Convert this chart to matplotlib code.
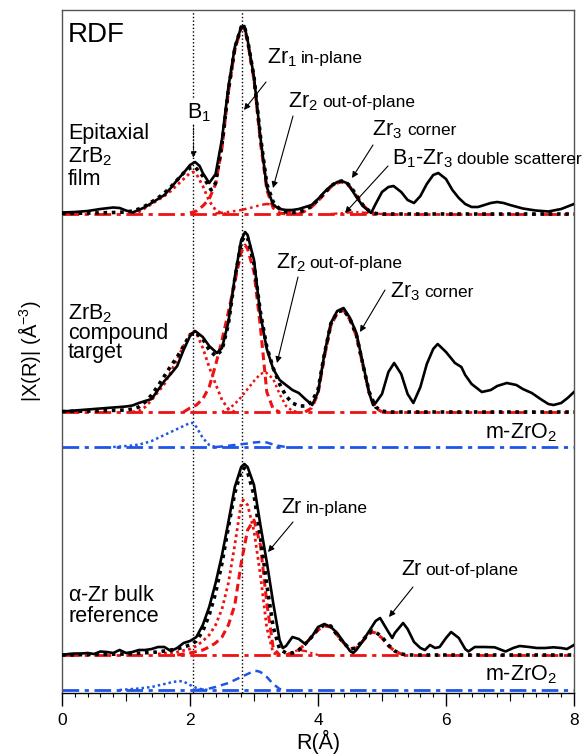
import numpy as np
import matplotlib
matplotlib.use("Agg")
import matplotlib.pyplot as plt
from matplotlib.ticker import MultipleLocator, FixedLocator, NullFormatter

plt.rcParams['font.family'] = ['Liberation Sans', 'DejaVu Sans']
plt.rcParams['mathtext.fontset'] = 'custom'
plt.rcParams['mathtext.rm'] = 'Liberation Sans'
plt.rcParams['mathtext.it'] = 'Liberation Sans:italic'
plt.rcParams['mathtext.default'] = 'regular'

# ---------------- data (R in Angstrom, |X(R)| in arbitrary units) ----------------
# Epitaxial ZrB2 film
film_data = [(0.0,1.5),(0.2,2),(0.4,3),(0.6,5),(0.8,6.5),(0.9,6),(1.0,3.5),(1.1,1.5),(1.2,4),(1.3,7),
             (1.4,11),(1.5,15),(1.6,19),(1.7,26),(1.8,34),(1.9,41),(2.0,49),(2.08,52),(2.15,48),(2.2,41),
             (2.3,31),(2.4,40),(2.5,75),(2.6,127),(2.7,167),(2.8,187),(2.85,188),(2.9,174),(3.0,137),
             (3.1,77),(3.2,27),(3.3,9),(3.4,5),(3.5,4),(3.6,4),(3.7,5),(3.8,7),(3.9,9),(4.0,15),(4.1,22),
             (4.2,28),(4.3,32),(4.37,33),(4.45,31),(4.5,27),(4.6,17),(4.7,8),(4.83,1),(4.9,10),(5.0,22),
             (5.1,27),(5.18,28),(5.3,22),(5.4,14),(5.5,11),(5.6,18),(5.7,30),(5.8,39),(5.88,41),(6.0,35),
             (6.1,24),(6.2,16),(6.3,10),(6.4,7),(6.5,7),(6.6,9),(6.7,11),(6.8,12),(6.9,11),(7.0,9),
             (7.2,5.5),(7.4,3.5),(7.6,2.5),(7.8,5),(8.0,10)]
film_fit = [(0.0,0.5),(0.5,1),(0.8,1.5),(1.0,2),(1.1,3),(1.2,5),(1.3,8),(1.4,12),(1.5,16),(1.6,21),
            (1.7,27),(1.8,34),(1.9,41),(2.0,46),(2.08,47),(2.2,38),(2.33,24),(2.4,31),(2.5,70),(2.6,124),
            (2.7,166),(2.8,187),(2.85,188),(2.9,174),(3.0,137),(3.1,78),(3.2,30),(3.3,12),(3.4,5),(3.5,2),
            (3.6,1.5),(3.7,2),(3.8,4),(3.9,8),(4.0,14),(4.1,21),(4.2,28),(4.3,32),(4.37,33),(4.45,31),
            (4.5,28),(4.6,19),(4.7,9),(4.8,3),(4.9,0.5),(5.0,0),(8.0,0)]
film_b1 = [(1.1,0),(1.2,2),(1.3,6),(1.4,10),(1.5,14),(1.6,18),(1.7,23),(1.8,29),(1.9,35),(2.0,41),
           (2.05,42),(2.1,40),(2.2,28),(2.3,13),(2.4,4),(2.5,0.5),(2.6,0)]
film_zr1 = [(2.0,1),(2.1,3),(2.2,8),(2.3,15),(2.4,30),(2.5,66),(2.6,122),(2.7,164),(2.8,186),(2.85,186),
            (2.9,172),(3.0,134),(3.1,72),(3.2,24),(3.3,6),(3.4,1),(3.5,0)]
film_zr2 = [(2.4,0.5),(2.6,2),(2.8,4),(3.0,7),(3.1,9),(3.2,10),(3.3,9.5),(3.4,6),(3.5,3),(3.6,1),(3.7,0)]
film_zr3 = [(3.7,0),(3.8,3),(3.9,7),(4.0,13),(4.1,20),(4.2,27),(4.3,31),(4.37,32),(4.45,30),(4.5,27),
            (4.6,18),(4.7,9),(4.8,3),(4.9,0)]
film_ds = [(4.2,0),(4.4,1),(4.6,2),(4.8,1),(5.0,0)]

# ZrB2 compound target
target_data = [(0.0,0.5),(0.2,1.5),(0.4,2.5),(0.6,3.5),(0.8,4.5),(1.0,5.5),(1.1,6.5),(1.2,9),(1.3,11),
               (1.4,13),(1.5,22),(1.6,31),(1.7,38),(1.8,46),(1.9,62),(2.0,76),(2.08,81),(2.2,75),
               (2.3,66),(2.42,59),(2.5,64),(2.6,90),(2.7,135),(2.8,172),(2.86,180),(2.9,177),(3.0,152),
               (3.1,97),(3.2,63),(3.3,43),(3.4,32),(3.5,27),(3.6,22),(3.7,19),(3.8,13),(3.91,7),(4.0,20),
               (4.1,58),(4.2,89),(4.3,101),(4.4,104),(4.5,94),(4.6,79),(4.7,49),(4.8,19),(4.86,7),
               (4.9,9),(5.0,18),(5.1,40),(5.19,49),(5.3,38),(5.4,18),(5.49,9),(5.6,25),(5.7,48),(5.8,63),
               (5.87,68),(6.0,60),(6.14,49),(6.24,45),(6.3,37),(6.4,28),(6.56,20),(6.7,22),(6.8,26),
               (6.95,29),(7.1,27),(7.2,23),(7.34,19),(7.5,12),(7.6,8),(7.68,7),(7.8,9),(7.9,14),(8.0,20)]
target_fit = [(0.0,0.5),(0.5,1),(1.0,2),(1.1,3),(1.2,5),(1.3,10),(1.4,17),(1.5,26),(1.6,36),(1.7,46),
              (1.8,55),(1.9,66),(2.0,77),(2.08,80),(2.2,73),(2.3,62),(2.4,56),(2.5,62),(2.6,88),
              (2.7,133),(2.8,170),(2.86,176),(2.9,174),(3.0,148),(3.1,100),(3.2,65),(3.3,44),(3.4,28),
              (3.5,16),(3.6,9),(3.7,6),(3.8,6),(3.9,10),(4.0,22),(4.1,58),(4.2,88),(4.3,100),(4.4,102),
              (4.5,93),(4.6,77),(4.7,48),(4.8,20),(4.9,5),(5.0,1),(5.1,0),(8.0,0)]
target_b1 = [(1.1,0),(1.2,1),(1.3,5),(1.4,12),(1.5,20),(1.6,28),(1.7,40),(1.8,53),(1.9,66),(2.0,78),
             (2.07,81),(2.1,79),(2.2,64),(2.3,45),(2.4,28),(2.5,12),(2.6,3),(2.7,0)]
target_zr1 = [(1.9,0),(2.0,4),(2.1,7),(2.2,13),(2.3,25),(2.4,47),(2.5,72),(2.6,100),(2.7,130),(2.8,160),
              (2.86,167),(2.9,163),(3.0,140),(3.1,85),(3.2,20),(3.3,3),(3.4,0)]
target_zr2 = [(2.5,0),(2.6,3),(2.7,8),(2.8,15),(2.9,23),(3.0,31),(3.1,38),(3.18,40),(3.3,33),(3.4,18),
              (3.5,6),(3.6,1),(3.7,0)]
target_zr3 = [(3.8,0),(3.9,4),(4.0,18),(4.1,55),(4.2,86),(4.3,99),(4.4,102),(4.5,92),(4.6,76),(4.7,47),
              (4.8,19),(4.9,4),(5.0,0)]
target_zro2_b = [(0.8,0),(1.0,1),(1.1,1.5),(1.2,2.5),(1.3,4),(1.4,6),(1.5,9),(1.6,12),(1.7,15),(1.8,18),
                 (1.9,21),(2.0,24),(2.05,24),(2.1,20),(2.2,9),(2.3,2),(2.4,0)]
target_zro2_zr = [(2.4,0),(2.5,0.5),(2.7,2),(2.9,3.5),(3.0,4.5),(3.1,5),(3.2,4.5),(3.3,2.5),(3.4,1),(3.5,0)]

# alpha-Zr bulk reference
zr_data = [(0.0,0),(0.1,1),(0.2,1.5),(0.3,1.5),(0.4,2),(0.5,1),(0.6,3.5),(0.7,3),(0.8,2),(0.9,5),
           (1.0,2),(1.1,3),(1.2,5),(1.3,5),(1.4,6),(1.5,8),(1.6,8),(1.7,4),(1.8,7),(1.9,12),(2.0,14),
           (2.1,18),(2.2,30),(2.3,48),(2.4,72),(2.5,100),(2.6,133),(2.7,168),(2.8,188),(2.85,191),
           (2.9,188),(3.0,170),(3.1,130),(3.2,93),(3.3,52),(3.4,15),(3.45,7),(3.5,9),(3.6,18),(3.7,16),
           (3.8,11),(3.9,18),(4.0,28),(4.1,31),(4.2,28),(4.3,22),(4.4,13),(4.5,4),(4.55,2),(4.6,5),
           (4.7,14),(4.8,24),(4.9,34),(4.97,37),(5.1,23),(5.16,17),(5.2,22),(5.33,32),(5.4,26),(5.5,13),
           (5.6,7),(5.67,5),(5.75,10),(5.83,7),(5.9,8),(6.0,17),(6.08,23),(6.2,17),(6.3,6),(6.35,3.5),
           (6.45,8),(6.6,8),(6.76,7.7),(6.93,3.5),(7.05,7),(7.15,9),(7.3,8),(7.42,7),(7.55,7),
           (7.68,7.7),(7.8,7),(7.89,6),(8.0,10)]
zr_fit = [(0.0,0),(0.5,0.5),(1.0,1),(1.5,3),(1.8,6),(2.0,10),(2.1,14),(2.2,24),(2.3,40),(2.4,62),
          (2.5,92),(2.6,128),(2.7,162),(2.8,184),(2.85,187),(2.9,183),(3.0,160),(3.1,118),(3.2,70),
          (3.3,28),(3.4,6),(3.5,2),(3.6,2),(3.7,5),(3.8,11),(3.9,18),(4.0,26),(4.1,30),(4.2,29),
          (4.3,20),(4.4,12),(4.5,6),(4.6,7),(4.7,15),(4.8,22),(4.85,24),(4.9,23),(5.0,18),(5.1,10),
          (5.2,4),(5.3,1),(5.4,0),(8.0,0)]
zr_inplane_a = [(1.5,1),(1.8,3),(2.0,6),(2.1,9),(2.2,14),(2.3,20),(2.4,30),(2.5,46),(2.6,72),(2.7,110),
                (2.8,152),(2.83,155),(2.9,150),(3.0,124),(3.1,80),(3.2,27),(3.3,2),(3.4,0)]
zr_inplane_b = [(1.8,0),(2.0,2),(2.2,5),(2.3,8),(2.4,12),(2.5,18),(2.6,30),(2.7,50),(2.8,92),(2.9,125),
                (3.0,135),(3.1,110),(3.2,52),(3.3,7),(3.4,0)]
zr_outplane = [(3.5,0),(3.6,2),(3.7,5),(3.8,11),(3.9,18),(4.0,25),(4.1,29),(4.2,28),(4.3,20),(4.4,12),
               (4.5,6),(4.6,7),(4.7,14),(4.8,21),(4.85,23),(4.9,22),(5.0,17),(5.1,9),(5.2,4),(5.3,1),(5.4,0)]
zr_small = [(3.5,0),(3.6,3),(3.7,5),(3.8,4),(3.9,2),(4.0,0)]
zr_zro2_b = [(0.9,0),(1.0,0.5),(1.2,1.5),(1.4,3),(1.6,6),(1.7,7.5),(1.82,9),(1.9,8.5),(2.0,5),(2.1,2),
             (2.2,0.5),(2.3,0)]
zr_zro2_zr = [(2.1,0),(2.2,0.5),(2.3,1.5),(2.4,3),(2.5,5),(2.6,7),(2.7,10),(2.8,13),(2.9,16),(3.0,19),
              (3.05,19),(3.1,18),(3.2,13),(3.3,6),(3.4,1),(3.5,0)]

# vertical reference distances
r_b1 = 2.05
r_zr1 = 2.82

# x ticks
major_ticks = [0, 2, 4, 6, 8]
mid_ticks = [1, 3, 5, 7]

# panel offsets (vertical shifts of each stacked set of curves)
off_film, off_target, off_target_zro2, off_zr, off_zr_zro2 = 479, 281, 246, 38, 3

# ---------------- figure ----------------
fig = plt.figure(figsize=(5.85, 7.56), dpi=100)
ax = fig.add_axes([62/585, 63/756, 512/585, 683/756])
ax.set_xlim(0, 8)
ax.set_ylim(0, 683)

RED = '#ee1111'
BLUE = '#1f55e6'

def xy(pairs, off):
    a = np.array(pairs, dtype=float)
    return a[:, 0], a[:, 1] + off

def base(off, color):
    ax.plot([0, 8], [off, off], color=color, lw=2.0, ls=(0, (6, 2, 1.5, 2)), zorder=2)

# vertical dotted lines
for r in (r_b1, r_zr1):
    ax.axvline(r, color='k', ls=(0, (1, 1.6)), lw=1.0, zorder=1)

# baselines
base(off_film, RED)
base(off_target, RED)
base(off_zr, RED)
base(off_target_zro2, BLUE)
base(off_zr_zro2, BLUE)

# film
ax.plot(*xy(film_b1, off_film), color=RED, ls=(0, (1, 1.2)), lw=2.0, zorder=3)
ax.plot(*xy(film_zr1, off_film), color=RED, ls=(0, (2.5, 1.5)), lw=2.2, zorder=3)
ax.plot(*xy(film_zr2, off_film), color=RED, ls=(0, (3, 1.5, 1, 1.5, 1, 1.5)), lw=1.8, zorder=3)
ax.plot(*xy(film_zr3, off_film), color=RED, ls=(0, (2.5, 1.5)), lw=2.2, zorder=3)
ax.plot(*xy(film_ds, off_film), color=RED, ls=(0, (3, 1.5, 1, 1.5)), lw=1.6, zorder=3)
ax.plot(*xy(film_fit, off_film), color='k', ls=(0, (1, 1.3)), lw=2.6, zorder=4)
ax.plot(*xy(film_data, off_film), color='k', lw=1.9, zorder=5)

# target
ax.plot(*xy(target_b1, off_target), color=RED, ls=(0, (1, 1.2)), lw=2.0, zorder=3)
ax.plot(*xy(target_zr1, off_target), color=RED, ls=(0, (2.5, 1.5)), lw=2.2, zorder=3)
ax.plot(*xy(target_zr2, off_target), color=RED, ls=(0, (1, 1.2)), lw=1.8, zorder=3)
ax.plot(*xy(target_zr3, off_target), color=RED, ls=(0, (2.5, 1.5)), lw=2.2, zorder=3)
ax.plot(*xy(target_fit, off_target), color='k', ls=(0, (1, 1.3)), lw=2.6, zorder=4)
ax.plot(*xy(target_data, off_target), color='k', lw=1.9, zorder=5)
ax.plot(*xy(target_zro2_b, off_target_zro2), color=BLUE, ls=(0, (1, 1.2)), lw=1.8, zorder=3)
ax.plot(*xy(target_zro2_zr, off_target_zro2), color=BLUE, ls=(0, (3, 2)), lw=1.8, zorder=3)

# alpha-Zr
ax.plot(*xy(zr_inplane_a, off_zr), color=RED, ls=(0, (1, 1.2)), lw=2.0, zorder=3)
ax.plot(*xy(zr_inplane_b, off_zr), color=RED, ls=(0, (2.5, 1.5)), lw=2.2, zorder=3)
ax.plot(*xy(zr_outplane, off_zr), color=RED, ls=(0, (2.5, 1.5)), lw=2.2, zorder=3)
ax.plot(*xy(zr_small, off_zr), color=RED, ls=(0, (3, 1.5, 1, 1.5)), lw=1.6, zorder=3)
ax.plot(*xy(zr_fit, off_zr), color='k', ls=(0, (1, 1.3)), lw=2.6, zorder=4)
ax.plot(*xy(zr_data, off_zr), color='k', lw=1.9, zorder=5)
ax.plot(*xy(zr_zro2_b, off_zr_zro2), color=BLUE, ls=(0, (1, 1.2)), lw=1.8, zorder=3)
ax.plot(*xy(zr_zro2_zr, off_zr_zro2), color=BLUE, ls=(0, (3, 2)), lw=1.8, zorder=3)

# ---------------- text ----------------
def X(px):
    return (px - 62) / 64.0

def Y(py):
    return 693 - py

BIG = 15.5
SMALL = 12.5

def txt(px, py, s, size=BIG, **kw):
    ax.text(X(px), Y(py), s, fontsize=size, ha='left', va='baseline', **kw)

arrow = dict(arrowstyle='-|>', color='k', lw=0.8, mutation_scale=9, shrinkA=0, shrinkB=0)

def arr(p0, p1, **extra):
    props = dict(arrow)
    props.update(extra)
    ax.annotate('', xy=(X(p1[0]), Y(p1[1])), xytext=(X(p0[0]), Y(p0[1])), arrowprops=props, zorder=6)

txt(68, 42, 'RDF', size=20)

# film labels
txt(68, 139, 'Epitaxial')
txt(68, 162, 'ZrB$_2$')
txt(68, 185, 'film')
ax.text(X(187), Y(118), 'B$_1$', fontsize=BIG, ha='left', va='baseline',
        bbox=dict(facecolor='white', edgecolor='none', pad=1.0), zorder=6)
arr((193.5, 125), (193.5, 158), linestyle=':')
txt(267, 63, 'Zr$_1$')
txt(301, 63, 'in-plane', size=SMALL)
arr((266, 82), (244, 110))
txt(288, 107, 'Zr$_2$')
txt(322, 107, 'out-of-plane', size=SMALL)
arr((293, 116), (273, 188))
txt(372, 135, 'Zr$_3$')
txt(407, 135, 'corner', size=SMALL)
arr((373, 145), (352, 178))
txt(392, 164, 'B$_1$-Zr$_3$')
txt(457, 164, 'double scatterer', size=SMALL, clip_on=False)
arr((388, 166), (345, 213))

# target labels
txt(68, 319, 'ZrB$_2$')
txt(68, 339, 'compound')
txt(68, 358, 'target')
txt(276, 268, 'Zr$_2$')
txt(309, 268, 'out-of-plane', size=SMALL)
arr((298, 277), (277, 363))
txt(390, 297, 'Zr$_3$')
txt(424, 297, 'corner', size=SMALL)
arr((385, 290), (360, 332))
txt(485, 438, 'm-ZrO$_2$')

# alpha-Zr labels
txt(68, 601, r'$\alpha$-Zr bulk')
txt(68, 622, 'reference')
txt(281, 513, 'Zr')
txt(306, 513, 'in-plane', size=SMALL)
arr((293, 522), (268, 552))
txt(401, 575, 'Zr')
txt(425, 575, 'out-of-plane', size=SMALL)
arr((413, 587), (389, 617))
txt(485, 680, 'm-ZrO$_2$')

# ---------------- axes styling ----------------
for s in ax.spines.values():
    s.set_color('#555555')
    s.set_linewidth(1.0)
ax.spines['bottom'].set_color('k')
ax.set_yticks([])
ax.xaxis.set_major_locator(FixedLocator(major_ticks))
ax.xaxis.set_minor_locator(MultipleLocator(0.2))
ax.tick_params(axis='x', which='major', direction='out', length=9.5, width=1, labelsize=12.5, pad=5)
ax.tick_params(axis='x', which='minor', direction='out', length=3.2, width=0.8)
sec = ax.secondary_xaxis('bottom')
sec.set_xticks(mid_ticks)
sec.xaxis.set_major_formatter(NullFormatter())
sec.tick_params(axis='x', which='major', direction='out', length=6, width=0.8)
sec.spines['bottom'].set_visible(False)
ax.set_xlabel('R(Å)', fontsize=15.5, labelpad=1)
ax.set_ylabel('|X(R)| (Å$^{-3}$)', fontsize=14.5, labelpad=14)

fig.savefig('out.png', dpi=100)
